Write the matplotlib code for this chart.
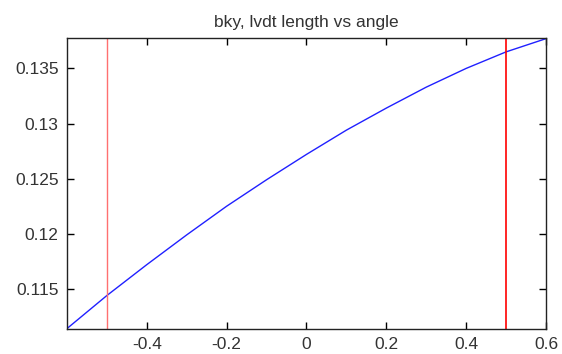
import matplotlib.pyplot as plt
import numpy as np

# angle et longueur lvdt
angle = [-0.6, -0.5, -0.4, -0.3, -0.2, -0.1, 0.0, 0.1, 0.2, 0.3, 0.4, 0.5, 0.6]
longueur = [0.1114, 0.1144, 0.1172, 0.1199, 0.1225, 0.1249, 0.1272,
            0.1294, 0.1314, 0.1333, 0.1350, 0.1365, 0.1377]
bornes = [-0.5, 0.5]
xticks = [-0.4, -0.2, 0, 0.2, 0.4, 0.6]
yticks = [0.115, 0.12, 0.125, 0.13, 0.135]

plt.rcParams['font.family'] = ['Liberation Sans', 'DejaVu Sans']
plt.rcParams['font.size'] = 12.5

fig = plt.figure(figsize=(5.62, 3.54), dpi=100)
ax = fig.add_axes([0.1192, 0.0706, 0.8523, 0.8221])

ax.plot(angle, longueur, color='#2020ff', lw=1)
ax.axvline(bornes[0], color='#ff7070', lw=1)
ax.axvline(bornes[1], color='#ff0000', lw=1.2)

ax.set_xlim(-0.6, 0.6)
ax.set_ylim(0.11136, 0.13776)
ax.set_xticks(xticks)
ax.set_xticklabels(['-0.4', '-0.2', '0', '0.2', '0.4', '0.6'])
ax.set_yticks(yticks)
ax.set_yticklabels(['0.115', '0.12', '0.125', '0.13', '0.135'])
ax.tick_params(direction='in', length=5, width=1, top=True, right=True,
               labelcolor='#333333', pad=6)
for s in ax.spines.values():
    s.set_linewidth(1)
    s.set_color('#222222')
ax.set_title('bky, lvdt length vs angle', fontsize=12.5, color='#333333', pad=8)

fig.savefig('out.png', dpi=100)
